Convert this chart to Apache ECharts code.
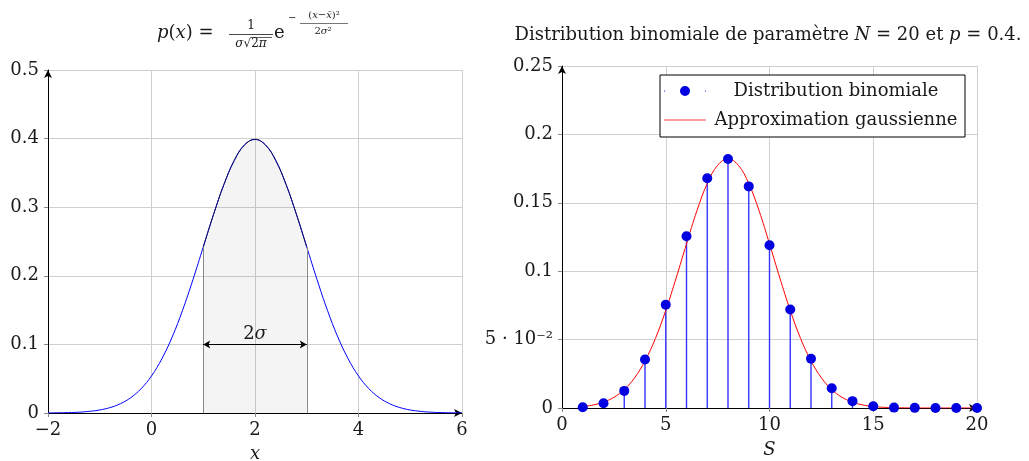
<!DOCTYPE html>
<html>
<head>
<meta charset="utf-8">
<script src="https://cdn.jsdelivr.net/npm/echarts@6/dist/echarts.min.js"></script>
<style>
  html, body { margin: 0; padding: 0; background: #fff; }
  #chart { width: 1029px; height: 461px; }
</style>
</head>
<body>
<div id="chart"></div>
<script>
// left panel: normal density, mean 2, sigma 1
const normX = [-2, -1.8, -1.6, -1.4, -1.2, -1, -0.8, -0.6, -0.4, -0.2, 0, 0.2, 0.4, 0.6, 0.8, 1, 1.2, 1.4, 1.6, 1.8, 2,
  2.2, 2.4, 2.6, 2.8, 3, 3.2, 3.4, 3.6, 3.8, 4, 4.2, 4.4, 4.6, 4.8, 5, 5.2, 5.4, 5.6, 5.8, 6]
const normY = [0.0001, 0.0003, 0.0006, 0.0012, 0.0024, 0.0044, 0.0079, 0.0136, 0.0224, 0.0355, 0.054, 0.079, 0.1109, 0.1497, 0.1942, 0.242, 0.2897, 0.3332, 0.3683, 0.391, 0.3989,
  0.391, 0.3683, 0.3332, 0.2897, 0.242, 0.1942, 0.1497, 0.1109, 0.079, 0.054, 0.0355, 0.0224, 0.0136, 0.0079, 0.0044, 0.0024, 0.0012, 0.0006, 0.0003, 0.0001]
const shadeFrom = 1
const shadeTo = 3
const arrowY = 0.1

// right panel: binomial N = 20, p = 0.4
const binomS = [1, 2, 3, 4, 5, 6, 7, 8, 9, 10, 11, 12, 13, 14, 15, 16, 17, 18, 19, 20]
const binomP = [0.0005, 0.0035, 0.0125, 0.0355, 0.0755, 0.1255, 0.168, 0.182, 0.162, 0.119, 0.072, 0.036, 0.0145, 0.005, 0.0013, 0.0003, 0.0001, 0, 0, 0]
const approxX = [1, 1.5, 2, 2.5, 3, 3.5, 4, 4.5, 5, 5.5, 6, 6.5, 7, 7.5, 8, 8.5, 9, 9.5, 10, 10.5, 11, 11.5, 12, 12.5, 13, 13.5, 14, 14.5, 15, 15.5, 16, 16.5, 17, 18, 19, 20]
const approxY = [0.0011, 0.0022, 0.0043, 0.0078, 0.0135, 0.0221, 0.0344, 0.0508, 0.0713, 0.095, 0.12, 0.1441, 0.1641, 0.1774, 0.1821, 0.1774, 0.1641, 0.1441, 0.12, 0.095, 0.0713, 0.0508, 0.0344, 0.0221, 0.0135, 0.0078, 0.0043, 0.0022, 0.0011, 0.0005, 0.0002, 0.0001, 0, 0, 0, 0]
const rightYLabels = ['0', '5 · 10⁻²', '0.1', '0.15', '0.2', '0.25']

const FONT = 'DejaVu Serif'
const FS = 18
const INK = '#1a1a1a'
const chart = echarts.init(document.getElementById('chart'))

const italic = size => ({ fontFamily: FONT, fontSize: size, fontStyle: 'italic', fill: INK, color: INK })

function axisX(grid, min, max, interval, name, nameGap, fmt) {
  return {
    type: 'value', gridIndex: grid, min, max, interval,
    name, nameLocation: 'middle', nameGap,
    nameTextStyle: { fontFamily: FONT, fontSize: FS, fontStyle: 'italic', color: INK },
    axisLine: { show: true, onZero: false, symbol: ['none', 'arrow'], symbolSize: [6, 8], lineStyle: { color: '#000', width: 1 } },
    axisTick: { show: true, length: 4, lineStyle: { color: '#888' } },
    axisLabel: { fontFamily: FONT, fontSize: FS, color: INK, margin: 8, formatter: fmt },
    splitLine: { show: true, lineStyle: { color: '#cfcfcf', width: 1 } }
  }
}
function axisY(grid, min, max, interval, fmt) {
  return {
    type: 'value', gridIndex: grid, min, max, interval,
    axisLine: { show: true, onZero: false, symbol: ['none', 'arrow'], symbolSize: [6, 8], lineStyle: { color: '#000', width: 1 } },
    axisTick: { show: true, length: 4, lineStyle: { color: '#888' } },
    axisLabel: { fontFamily: FONT, fontSize: FS, color: INK, margin: 9, formatter: fmt },
    splitLine: { show: true, lineStyle: { color: '#cfcfcf', width: 1 } }
  }
}

const normData = normX.map((x, i) => [x, normY[i]])
const shadeData = normData.filter(d => d[0] >= shadeFrom && d[0] <= shadeTo)
const yAt = x => normY[normX.indexOf(x)]

// legend glyph for the comb plot: tiny dot, big dot, tiny dot
const combIcon = 'path://M0 5a0.6 0.6 0 1 0 1.2 0a0.6 0.6 0 1 0 -1.2 0' +
  'M16 5a5 5 0 1 0 10 0a5 5 0 1 0 -10 0' +
  'M40.8 5a0.6 0.6 0 1 0 1.2 0a0.6 0.6 0 1 0 -1.2 0'

const option = {
  animation: false,
  grid: [
    { left: 48, top: 70, width: 414, height: 343, containLabel: false, outerBoundsMode: 'none' },
    { left: 562, top: 66, width: 415, height: 342, containLabel: false, outerBoundsMode: 'none' }
  ],
  xAxis: [
    axisX(0, -2, 6, 2, 'x', 32, v => (v < 0 ? '−' + (-v) : String(v))),
    axisX(1, 0, 20, 5, 'S', 33, v => String(v))
  ],
  yAxis: [
    axisY(0, 0, 0.5, 0.1, v => (v === 0 ? '0' : v.toFixed(1))),
    axisY(1, 0, 0.25, 0.05, v => rightYLabels[Math.round(v / 0.05)])
  ],
  legend: {
    left: 660, top: 75, orient: 'vertical',
    data: [
      { name: 'Distribution binomiale', icon: combIcon },
      { name: 'Approximation gaussienne', icon: 'path://M0 0H42V1.2H0Z' }
    ],
    itemWidth: 42, itemHeight: 10, itemGap: 7,
    padding: [5, 4, 6, 4],
    borderColor: '#000', borderWidth: 1, borderRadius: 0,
    backgroundColor: '#fff',
    formatter: name => '{c|' + name + '}',
    textStyle: {
      fontFamily: FONT, fontSize: FS, color: INK, lineHeight: 22,
      rich: { c: { fontFamily: FONT, fontSize: FS, color: INK, width: 250, align: 'center', lineHeight: 22, height: 22 } }
    }
  },
  series: [
    {
      type: 'line', xAxisIndex: 0, yAxisIndex: 0, data: normData,
      smooth: 0.4, showSymbol: false, lineStyle: { color: '#0000ff', width: 1 }, z: 3
    },
    {
      type: 'line', xAxisIndex: 0, yAxisIndex: 0, data: shadeData,
      smooth: 0.4, showSymbol: false,
      lineStyle: { color: '#10105a', width: 1 },
      areaStyle: { color: 'rgba(0,0,0,0.06)' }, z: 4,
      markLine: {
        silent: true, symbol: ['none', 'none'],
        lineStyle: { color: '#888', width: 1, type: 'solid' },
        label: { show: false },
        data: [
          [{ coord: [shadeFrom, 0] }, { coord: [shadeFrom, yAt(shadeFrom)] }],
          [{ coord: [shadeTo, 0] }, { coord: [shadeTo, yAt(shadeTo)] }]
        ]
      }
    },
    {
      type: 'line', xAxisIndex: 0, yAxisIndex: 0, data: [], z: 5,
      markLine: {
        silent: true, symbol: ['arrow', 'arrow'], symbolSize: [6, 7],
        lineStyle: { color: '#000', width: 1, type: 'solid' },
        label: {
          show: true, position: 'middle', distance: 1,
          formatter: '2{i|σ}', fontFamily: FONT, fontSize: FS, color: INK,
          rich: { i: italic(FS) }
        },
        data: [[{ coord: [shadeFrom, arrowY] }, { coord: [shadeTo, arrowY] }]]
      }
    },
    {
      type: 'bar', xAxisIndex: 1, yAxisIndex: 1, barWidth: 1.4,
      data: binomS.map((s, i) => [s, binomP[i]]),
      itemStyle: { color: '#3535ff' }, z: 2
    },
    {
      name: 'Approximation gaussienne', type: 'line', xAxisIndex: 1, yAxisIndex: 1,
      data: approxX.map((x, i) => [x, approxY[i]]),
      smooth: 0.4, showSymbol: false, lineStyle: { color: '#ff0000', width: 1 },
      itemStyle: { color: '#ff3b3b' }, z: 3
    },
    {
      name: 'Distribution binomiale', type: 'scatter', xAxisIndex: 1, yAxisIndex: 1,
      data: binomS.map((s, i) => [s, binomP[i]]),
      symbolSize: 10, itemStyle: { color: '#0000e0', opacity: 1 }, z: 4
    }
  ],
  graphic: [
    { type: 'text', x: 157, y: 33, style: {
      text: '{i|p}({i|x}) =', font: FS + 'px "' + FONT + '"', fill: INK, verticalAlign: 'middle',
      rich: { i: italic(FS) } } },
    { type: 'text', x: 251, y: 26, style: { text: '1', font: '12px "' + FONT + '"', fill: INK, align: 'center', verticalAlign: 'middle' } },
    { type: 'line', shape: { x1: 229, y1: 34.5, x2: 273, y2: 34.5 }, style: { stroke: INK, lineWidth: 0.8 } },
    { type: 'text', x: 251, y: 44, style: {
      text: '{i|σ}√2{i|π}', font: '12px "' + FONT + '"', fill: INK, align: 'center', verticalAlign: 'middle',
      rich: { i: italic(12) } } },
    { type: 'line', shape: { x1: 251, y1: 37.5, x2: 272, y2: 37.5 }, style: { stroke: INK, lineWidth: 0.7 } },
    { type: 'text', x: 274, y: 33, style: { text: 'e', font: FS + 'px "' + FONT + '"', fill: INK, verticalAlign: 'middle' } },
    { type: 'text', x: 288, y: 18, style: { text: '−', font: '10px "' + FONT + '"', fill: INK, verticalAlign: 'middle' } },
    { type: 'text', x: 324, y: 15, style: {
      text: '({i|x}−{i|x̄})²', font: '10px "' + FONT + '"', fill: INK, align: 'center', verticalAlign: 'middle',
      rich: { i: italic(10) } } },
    { type: 'line', shape: { x1: 300, y1: 23.5, x2: 348, y2: 23.5 }, style: { stroke: INK, lineWidth: 0.6 } },
    { type: 'text', x: 323, y: 31, style: {
      text: '2{i|σ}²', font: '10px "' + FONT + '"', fill: INK, align: 'center', verticalAlign: 'middle',
      rich: { i: italic(10) } } },
    { type: 'text', x: 768, y: 35, style: {
      text: 'Distribution binomiale de paramètre {i|N} = 20 et {i|p} = 0.4.', font: FS + 'px "' + FONT + '"', fill: INK,
      align: 'center', verticalAlign: 'middle',
      rich: { i: italic(FS) } } }
  ]
}

chart.setOption(option)
window.addEventListener('resize', () => chart.resize())
</script>
</body>
</html>
